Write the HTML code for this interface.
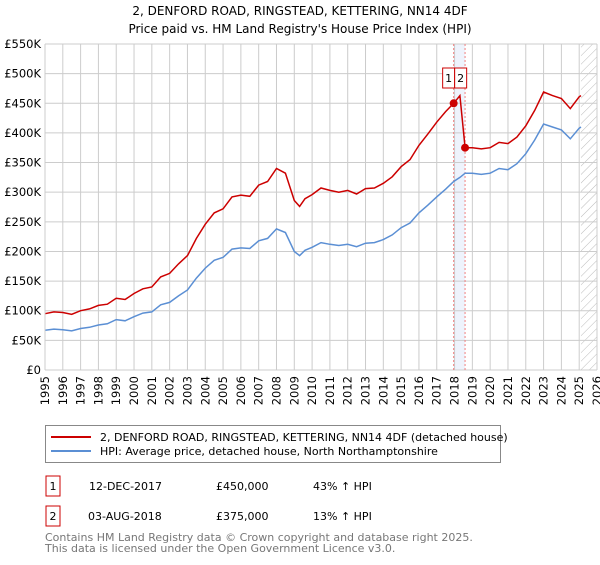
<!DOCTYPE html>
<html><head><meta charset="utf-8"><style>
body{margin:0;background:#fff;font-family:"Liberation Sans","DejaVu Sans",sans-serif}
svg text{font-family:"DejaVu Sans","Liberation Sans",sans-serif}
</style></head><body>
<svg width="600" height="560" viewBox="0 0 600 560">
<defs><pattern id="hatch" width="6" height="6" patternUnits="userSpaceOnUse" patternTransform="rotate(45)"><line x1="0" y1="0" x2="0" y2="6" stroke="#bbb" stroke-width="1"/></pattern></defs>
<text x="300" y="15" text-anchor="middle" font-size="12">2, DENFORD ROAD, RINGSTEAD, KETTERING, NN14 4DF</text>
<text x="300" y="33" text-anchor="middle" font-size="12">Price paid vs. HM Land Registry's House Price Index (HPI)</text>
<g id="plot"></g>
<g>
<rect x="45.5" y="425.5" width="455" height="37" fill="#fff" stroke="#888"/>
<line x1="51" y1="437" x2="91" y2="437" stroke="#cc0000" stroke-width="2"/>
<text x="100" y="441" font-size="11">2, DENFORD ROAD, RINGSTEAD, KETTERING, NN14 4DF (detached house)</text>
<line x1="51" y1="451" x2="91" y2="451" stroke="#5b8fd4" stroke-width="2"/>
<text x="100" y="455" font-size="11">HPI: Average price, detached house, North Northamptonshire</text>
</g>
<g font-size="11">
<rect x="46" y="476" width="14" height="20" fill="none" stroke="#cc0000"/><text x="53" y="490" text-anchor="middle">1</text>
<text x="89" y="490">12-DEC-2017</text><text x="216" y="490">£450,000</text><text x="313" y="490">43% ↑ HPI</text>
<rect x="46" y="506" width="14" height="20" fill="none" stroke="#cc0000"/><text x="53" y="520" text-anchor="middle">2</text>
<text x="88" y="520">03-AUG-2018</text><text x="216" y="520">£375,000</text><text x="313" y="520">13% ↑ HPI</text>
</g>
<text x="45" y="541" font-size="11" fill="#777">Contains HM Land Registry data © Crown copyright and database right 2025.</text>
<text x="45" y="552" font-size="11" fill="#777">This data is licensed under the Open Government Licence v3.0.</text>
</svg>
<script>
const hpiYears=[1995,1995.5,1996,1996.5,1997,1997.5,1998,1998.5,1999,1999.5,2000,2000.5,2001,2001.5,2002,2002.5,2003,2003.5,2004,2004.5,2005,2005.5,2006,2006.5,2007,2007.5,2008,2008.5,2009,2009.3,2009.6,2010,2010.5,2011,2011.5,2012,2012.5,2013,2013.5,2014,2014.5,2015,2015.5,2016,2016.5,2017,2017.5,2017.95,2018.3,2018.59,2019,2019.5,2020,2020.5,2021,2021.5,2022,2022.5,2023,2023.5,2024,2024.5,2025,2025.1];
const hpiValues=[67,69,68,66,70,72,76,78,85,83,90,96,98,110,114,125,135,155,172,185,190,204,206,205,218,222,238,232,200,193,202,207,215,212,210,212,208,214,215,220,228,240,248,265,278,292,305,318,325,332,332,330,332,340,338,348,365,388,415,410,405,390,408,410];
const priceValues=[95,98,97,94,100,103,109,111,121,119,129,137,140,157,163,179,193,222,246,265,272,292,295,293,312,318,340,332,286,276,289,296,307,303,300,303,297,306,307,315,326,343,355,379,398,418,436,450,463,375,375,373,375,384,382,393,412,438,469,463,458,441,461,463];
const saleYears=[2017.95,2018.59];
const saleValues=[450,375];
const yTicks=[0,50,100,150,200,250,300,350,400,450,500,550];
const xTicks=[1995,1996,1997,1998,1999,2000,2001,2002,2003,2004,2005,2006,2007,2008,2009,2010,2011,2012,2013,2014,2015,2016,2017,2018,2019,2020,2021,2022,2023,2024,2025,2026];
const L=45,R=597,T=44,B=370;
const xs=y=>L+(y-1995)/(2026-1995)*(R-L);
const ys=v=>B-v/550*(B-T);
const NS="http://www.w3.org/2000/svg";
const g=document.getElementById('plot');
function mk(t,a){const e=document.createElementNS(NS,t);for(const k in a)e.setAttribute(k,a[k]);g.appendChild(e);return e;}
let e=mk('rect',{x:xs(saleYears[0]),y:T,width:xs(saleYears[1])-xs(saleYears[0]),height:B-T,fill:'#eef3fc'});


e=mk('rect',{x:xs(2025.1),y:T,width:R-xs(2025.1),height:B-T,fill:'url(#hatch)'});


yTicks.forEach(v=>{
 let l=mk('line',{x1:L,x2:R,y1:ys(v),y2:ys(v),stroke:'#ccc'});
 
 
 let t=mk('text',{x:L-4,y:ys(v)+4,'text-anchor':'end','font-size':'11.5'});
 t.textContent='£'+(v===0?'0':v+'K');
 
 
});
xTicks.forEach(yr=>{
 let l=mk('line',{x1:xs(yr),x2:xs(yr),y1:T,y2:B,stroke:'#ccc'});
 
 
 let t=mk('text',{x:0,y:0,'text-anchor':'end','font-size':'11.5',transform:`translate(${xs(yr)+4},376) rotate(-90)`});
 t.textContent=yr;
 
 
});
saleYears.forEach(yr=>{
 let l=mk('line',{x1:xs(yr),x2:xs(yr),y1:T,y2:B,stroke:'#f08080','stroke-dasharray':'2,2'});
 
 
});
const path=(xa,va)=>xa.map((x,i)=>(i?'L':'M')+xs(x).toFixed(1)+','+ys(va[i]).toFixed(1)).join('');
e=mk('path',{d:path(hpiYears,hpiValues),fill:'none',stroke:'#5b8fd4','stroke-width':1.5});


e=mk('path',{d:path(hpiYears,priceValues),fill:'none',stroke:'#cc0000','stroke-width':1.5});


saleYears.forEach((yr,i)=>{
 let c=mk('circle',{cx:xs(yr),cy:ys(saleValues[i]),r:4,fill:'#cc0000'});
 
 
 let bx=i===0?xs(saleYears[0])-11:xs(saleYears[0])+1;
 let r=mk('rect',{x:bx,y:68,width:12,height:20,fill:'#fff',stroke:'#cc0000'});
 
 
 let t=mk('text',{x:bx+6,y:82,'text-anchor':'middle','font-size':'11'});
 t.textContent=String(i+1);
 
 
});
mk('line',{x1:L,x2:L,y1:T,y2:B,stroke:'#ccc'});
</script>
</body></html>
